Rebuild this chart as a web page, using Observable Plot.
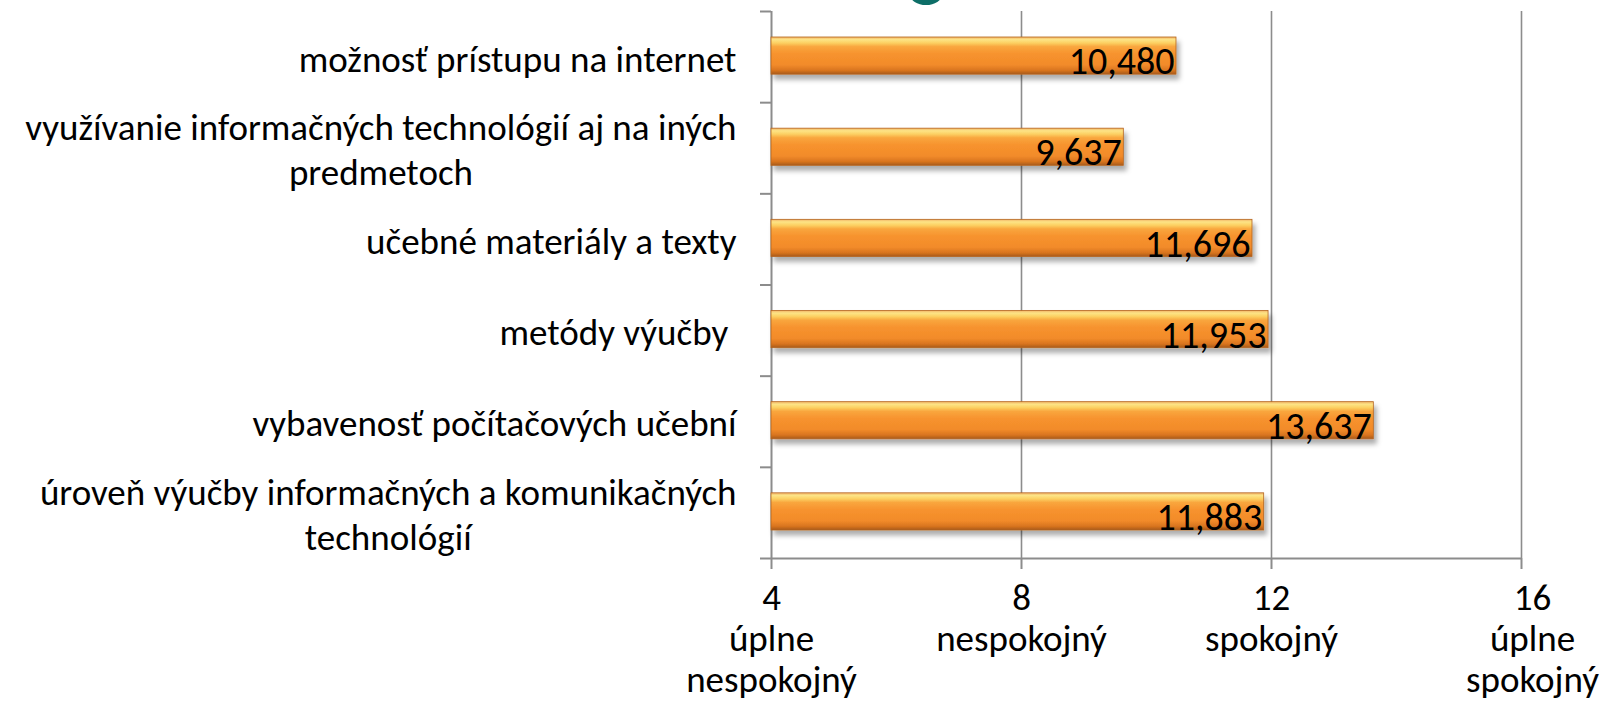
<!DOCTYPE html>
<html><head><meta charset="utf-8">
<script src="https://cdn.jsdelivr.net/npm/d3@7"></script>
<script src="https://cdn.jsdelivr.net/npm/@observablehq/plot@0.6"></script>
<style>
html,body{margin:0;padding:0;background:#fff;}
#wrap{position:relative;width:1606px;height:706px;overflow:hidden;background:#fff;}
#blob{position:absolute;left:910px;top:-16px;width:32px;height:21px;border-radius:50%;background:#0d6e67;z-index:2;}
#chart{position:absolute;left:0;top:0;}
</style></head><body>
<div id="wrap"><div id="chart"></div><div id="blob"></div></div>
<script>
// ---- data ----
const categories = [
  "možnosť prístupu na internet",
  "využívanie informačných technológií aj na iných\npredmetoch",
  "učebné materiály a texty",
  "metódy výučby ",
  "vybavenosť počítačových učební",
  "úroveň výučby informačných a komunikačných\ntechnológií"
];
const values = [10.480, 9.637, 11.696, 11.953, 13.637, 11.883];
const xDomain = [4, 16];
const xTicks = [4, 8, 12, 16];
const xTickLabels = ["4\núplne\nnespokojný", "8\nnespokojný", "12\nspokojný", "16\núplne\nspokojný"];
const gridTicks = [8, 12, 16];

// ---- layout ----
const W = 1606, H = 706, mL = 771, mR = 85, mT = 11, mB = 148;
const step = (H - mT - mB) / categories.length;
const FONT = 'Carlito, "Liberation Sans Narrow", "Arial Narrow", Lato, Roboto, sans-serif';

const ctx = document.createElement("canvas").getContext("2d");
function textWidth(s, fs) {
  ctx.font = `${fs}px ${FONT}`;
  return Math.max(...s.split("\n").map(l => ctx.measureText(l).width));
}
const longest = "úroveň výučby informačných a komunikačných";
const fs = Math.min(37, 705 * 100 / textWidth(longest, 100));
const lh = Math.max(42, fs * 1.22);

const data = categories.map((c, i) => ({cat: c, value: values[i]}));
const fmt = v => v.toFixed(3).replace(".", ",");
const gray = "#8c8c8c";

const labelMarks = categories.map(c => Plot.text([c], {
  y: d => d, text: d => d, frameAnchor: "left", textAnchor: "middle",
  dx: -(35 + textWidth(c, fs) / 2), fontSize: fs, lineHeight: lh / fs, fill: "black"
}));

const chart = Plot.plot({
  width: W, height: H,
  marginLeft: mL, marginRight: mR, marginTop: mT, marginBottom: mB,
  x: {domain: xDomain, axis: null},
  y: {domain: categories, padding: 0, round: false, axis: null},
  style: {fontFamily: FONT, background: "white", overflow: "visible", color: "black"},
  marks: [
    Plot.ruleX(gridTicks, {stroke: gray, strokeWidth: 1.6}),
    Plot.ruleX([xDomain[0]], {stroke: gray, strokeWidth: 2}),
    Plot.ruleY(categories, {y: d => d, x1: () => xDomain[0], x2: () => xDomain[0], insetLeft: -11, dy: -step / 2, stroke: gray, strokeWidth: 2}),
    Plot.ruleY([categories[categories.length - 1]], {y: d => d, x1: () => xDomain[0], x2: () => xDomain[1], insetLeft: -11, dy: step / 2, stroke: gray, strokeWidth: 2}),
    Plot.tickX(xTicks, {x: d => d, y: () => categories[categories.length - 1], insetTop: step, insetBottom: -11, stroke: gray, strokeWidth: 2}),
    Plot.barX(data, {x1: () => xDomain[0], x2: "value", y: "cat", insetTop: 26, insetBottom: 28, fill: "url(#barGrad)", stroke: "#b5651f", strokeWidth: 0.8}),
    Plot.text(data, {x: "value", y: "cat", text: d => fmt(d.value), textAnchor: "end", dx: -2, dy: 5, fontSize: fs + 1, fill: "black"}),
    ...labelMarks,
    Plot.text(xTicks.slice(0, 3), {x: d => d, text: (d, i) => xTickLabels[i], frameAnchor: "bottom", lineAnchor: "top", dy: 22, fontSize: fs, lineHeight: 41 / fs, fill: "black"}),
    Plot.text(xTicks.slice(3), {x: d => d, text: (d, i) => xTickLabels[3 + i], frameAnchor: "bottom", lineAnchor: "top", dx: 11, dy: 22, fontSize: fs, lineHeight: 41 / fs, fill: "black"})
  ]
});
document.getElementById("chart").appendChild(chart);

const svg = chart.tagName.toLowerCase() === "svg" ? chart : chart.querySelector("svg");
const ns = "http://www.w3.org/2000/svg";
const defs = document.createElementNS(ns, "defs");
defs.innerHTML = `
<linearGradient id="barGrad" x1="0" y1="0" x2="0" y2="1">
  <stop offset="0" stop-color="#f2b366"/>
  <stop offset="0.07" stop-color="#fde486"/>
  <stop offset="0.16" stop-color="#fcd062"/>
  <stop offset="0.26" stop-color="#f9a63e"/>
  <stop offset="0.45" stop-color="#f7932e"/>
  <stop offset="0.75" stop-color="#f28b2a"/>
  <stop offset="0.9" stop-color="#d8741f"/>
  <stop offset="1" stop-color="#a75a1c"/>
</linearGradient>
<filter id="barShadow" x="-5%" y="-30%" width="115%" height="180%">
  <feDropShadow dx="3" dy="5" stdDeviation="2.5" flood-color="#000" flood-opacity="0.32"/>
</filter>`;
svg.insertBefore(defs, svg.firstChild);
svg.querySelectorAll("g[aria-label='bar']").forEach(g => g.setAttribute("filter", "url(#barShadow)"));
</script>
</body></html>
